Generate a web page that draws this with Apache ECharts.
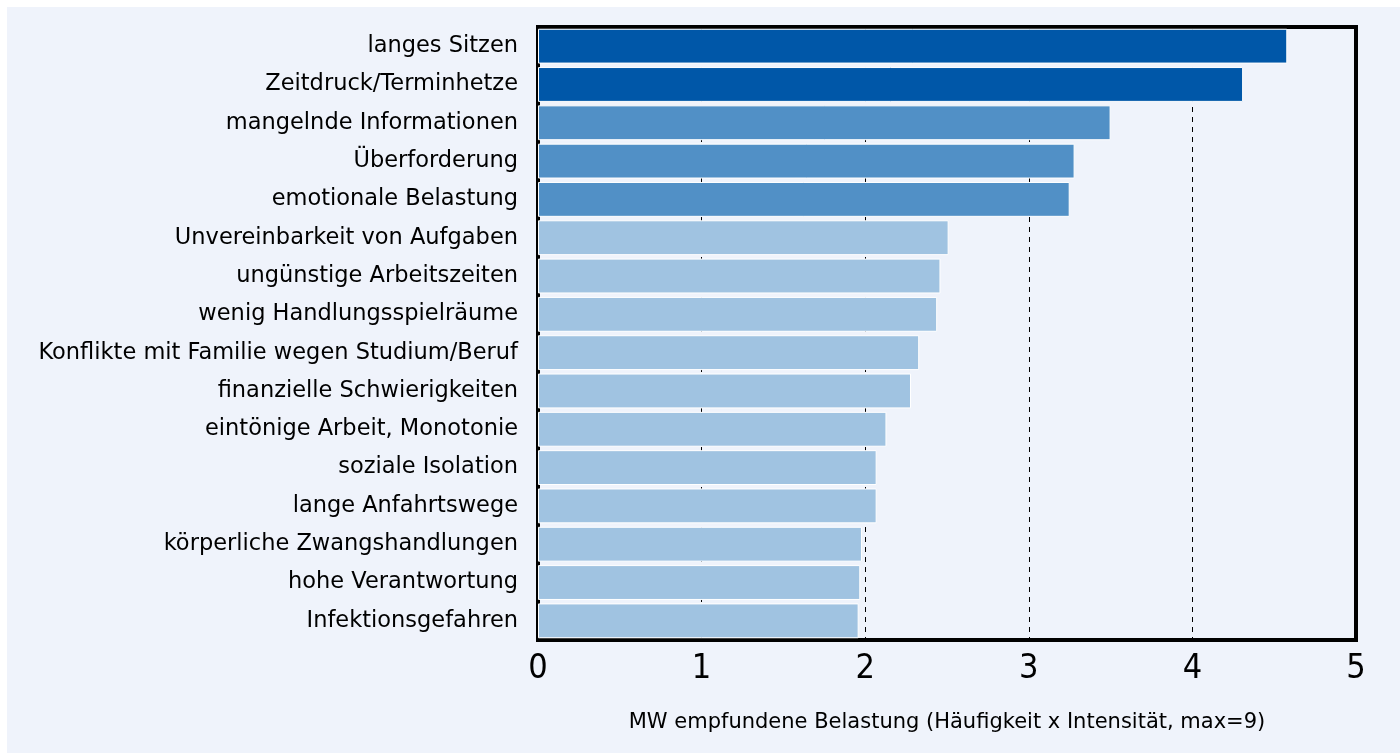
<!DOCTYPE html>
<html>
<head>
<meta charset="utf-8">
<script src="https://cdn.jsdelivr.net/npm/echarts@6/dist/echarts.min.js"></script>
<style>
    html, body { margin: 0; padding: 0; background: #fff; }
    #chart { width: 1400px; height: 753px; }
</style>
</head>
<body>
<div id="chart"></div>
<script>
// Belastungen, von oben nach unten
var categories = [
    'langes Sitzen',
    'Zeitdruck/Terminhetze',
    'mangelnde Informationen',
    'Überforderung',
    'emotionale Belastung',
    'Unvereinbarkeit von Aufgaben',
    'ungünstige Arbeitszeiten',
    'wenig Handlungsspielräume',
    'Konflikte mit Familie wegen Studium/Beruf',
    'finanzielle Schwierigkeiten',
    'eintönige Arbeit, Monotonie',
    'soziale Isolation',
    'lange Anfahrtswege',
    'körperliche Zwangshandlungen',
    'hohe Verantwortung',
    'Infektionsgefahren'
];
var values = [4.58, 4.31, 3.50, 3.28, 3.25, 2.51, 2.46, 2.44, 2.33, 2.28, 2.13, 2.07, 2.07, 1.98, 1.97, 1.96];
var xTicks = [0, 1, 2, 3, 4, 5];
var xTitle = 'MW empfundene Belastung (Häufigkeit x Intensität, max=9)';

var chart = document.getElementById('chart');
var myChart = echarts.init(chart);

function barColor(idx) {
    if (idx < 2) return '#0057a8';   // dunkel
    if (idx < 5) return '#5190c6';   // mittel
    return '#a0c3e1';                // hell
}

var option = {
    backgroundColor: '#ffffff',
    animation: false,
    graphic: [{
        type: 'rect',
        z: -10,
        shape: { x: 7, y: 7, width: 1400, height: 753 },
        style: { fill: '#eff3fb' }
    }],
    grid: {
        left: 538,
        right: 44,
        top: 27,
        bottom: 113,
        show: true,
        borderColor: '#000',
        borderWidth: 4,
        containLabel: false
    },
    xAxis: {
        type: 'value',
        min: xTicks[0],
        max: xTicks[xTicks.length - 1],
        interval: 1,
        axisLine: { show: false },
        axisTick: { show: false },
        axisLabel: {
            color: '#000',
            fontSize: 34,
            fontFamily: 'DejaVu Sans Condensed',
            margin: 12
        },
        splitLine: {
            show: true,
            lineStyle: { color: '#000', type: [5, 5], width: 1 }
        },
        name: xTitle,
        nameLocation: 'middle',
        nameGap: 72,
        nameTextStyle: {
            color: '#000',
            fontSize: 21,
            fontFamily: 'DejaVu Sans'
        }
    },
    yAxis: {
        type: 'category',
        data: categories,
        inverse: true,
        axisLine: { show: false },
        axisTick: { show: false },
        splitLine: { show: false },
        axisLabel: {
            color: '#000',
            fontSize: 22.5,
            fontFamily: 'DejaVu Sans',
            margin: 20
        }
    },
    series: [{
        type: 'bar',
        data: values,
        barCategoryGap: '9%',
        itemStyle: {
            color: function (p) { return barColor(p.dataIndex); },
            borderColor: '#ffffff',
            borderWidth: 1
        }
    }]
};
myChart.setOption(option);
</script>
</body>
</html>
